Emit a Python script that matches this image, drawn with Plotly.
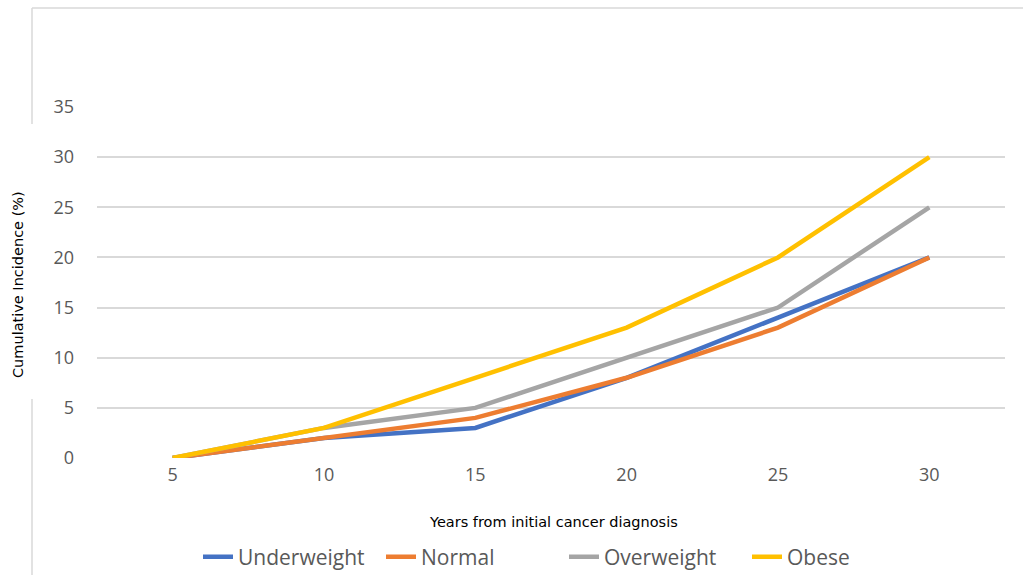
import plotly.graph_objects as go

years = ["5", "10", "15", "20", "25", "30"]
underweight = [0, 2, 3, 8, 14, 20]
normal = [0, 2, 4, 8, 13, 20]
overweight = [0, 3, 5, 10, 15, 25]
obese = [0, 3, 8, 13, 20, 30]

series = [
    ("Underweight", underweight, "#4472C4"),
    ("Normal", normal, "#ED7D31"),
    ("Overweight", overweight, "#A5A5A5"),
    ("Obese", obese, "#FFC000"),
]

fig = go.Figure()
for name, vals, color in series:
    fig.add_trace(go.Scatter(x=years, y=vals, name=name, mode="lines",
                             line=dict(color=color, width=4.5)))

L, R, T, B = 97, 18, 107, 117
W, H = 1023, 575
pw, ph = W - L - R, H - T - B

def px_x(px):
    return (px - L) / pw

def px_y(py):
    return (H - B - py) / ph

border = "#D9D9D9"
shapes = [
    dict(type="line", xref="paper", yref="paper", x0=px_x(32), x1=px_x(1023),
         y0=px_y(8), y1=px_y(8), line=dict(color=border, width=1.5)),
    dict(type="line", xref="paper", yref="paper", x0=px_x(32), x1=px_x(32),
         y0=px_y(8), y1=px_y(124), line=dict(color=border, width=1.5)),
    dict(type="line", xref="paper", yref="paper", x0=px_x(32), x1=px_x(32),
         y0=px_y(399), y1=px_y(575), line=dict(color=border, width=1.5)),
]

fig.update_layout(
    width=W, height=H,
    margin=dict(l=L, r=R, t=T, b=B, autoexpand=False),
    paper_bgcolor="white", plot_bgcolor="white",
    font=dict(family="Open Sans", color="#595959"),
    shapes=shapes,
    showlegend=True,
    legend=dict(orientation="h", x=198 / W, xref="container", xanchor="left",
                y=(H - 557) / H, yref="container", yanchor="middle",
                entrywidth=138, entrywidthmode="pixels",
                font=dict(size=21, color="#595959"), tracegroupgap=0),
    annotations=[
        dict(text="Cumulative Incidence (%)", xref="paper", yref="paper",
             x=px_x(18), y=px_y(285), textangle=-90, showarrow=False,
             font=dict(family="DejaVu Sans", size=14.5, color="black"),
             xanchor="center", yanchor="middle"),
        dict(text="Years from initial cancer diagnosis", xref="paper", yref="paper",
             x=px_x(553), y=px_y(522), showarrow=False,
             font=dict(family="DejaVu Sans", size=14.5, color="black"),
             xanchor="center", yanchor="middle"),
    ],
)
fig.update_xaxes(type="category", range=[-0.5, 5.5], showgrid=False, showline=False,
                 zeroline=False, ticks="", tickfont=dict(size=18, color="#595959"),
                 ticklabelstandoff=4)
fig.update_yaxes(range=[0, 35], dtick=5, showgrid=True, gridcolor="#D9D9D9", gridwidth=1.5,
                 zeroline=False, showline=False, ticks="",
                 tickfont=dict(size=18, color="#595959"), ticklabelstandoff=22)

fig.write_html("out.html", config={"displayModeBar": False},
               post_script="document.body.style.margin='0';document.body.style.overflow='hidden';")
